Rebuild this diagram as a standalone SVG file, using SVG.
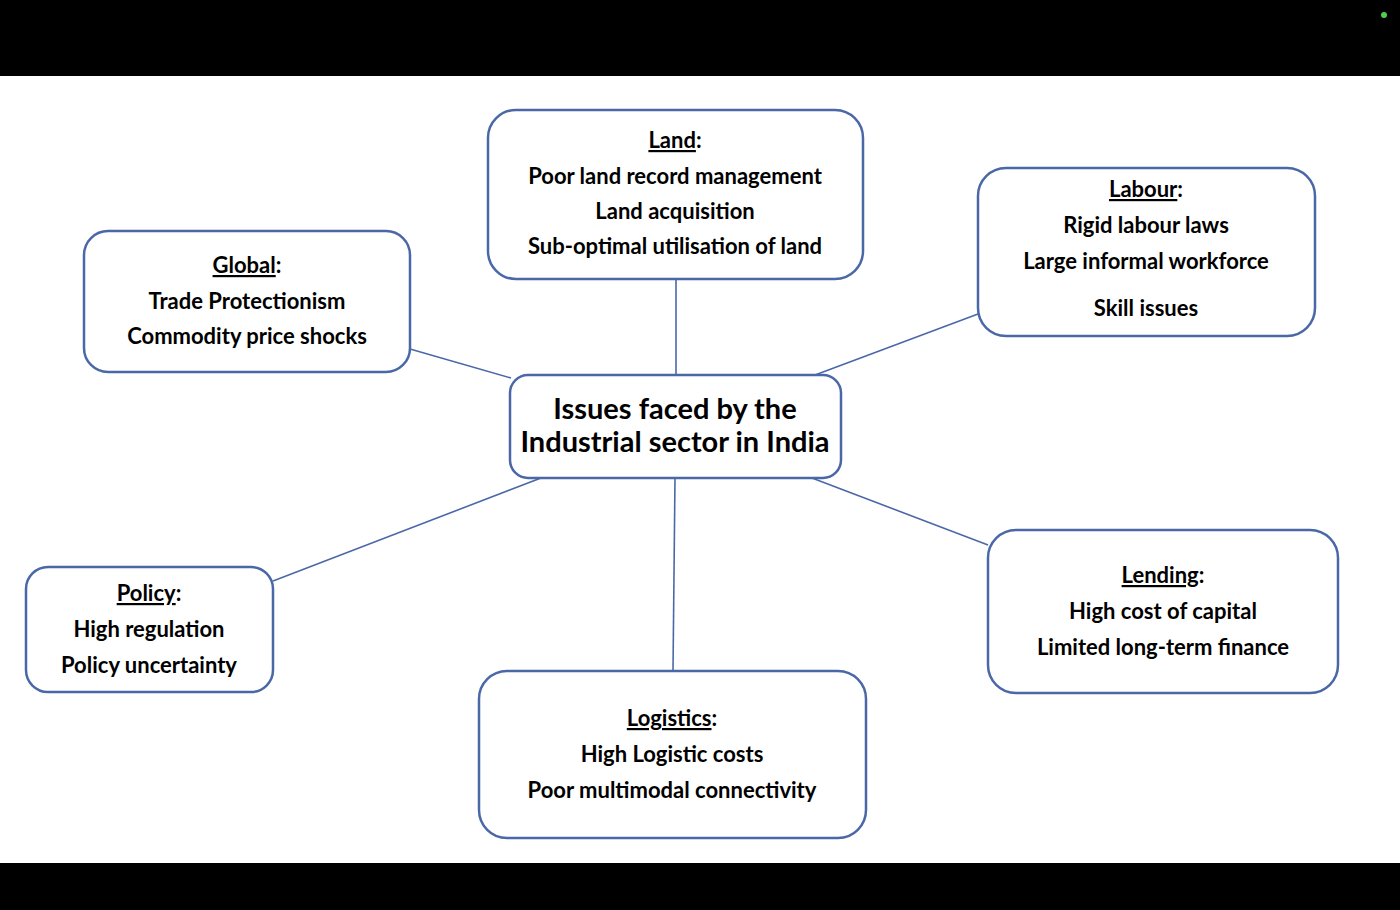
<svg xmlns="http://www.w3.org/2000/svg" width="1400" height="910" viewBox="0 0 1400 910">
<style>
.box{fill:#fff;stroke:#4a68a8;stroke-width:2.5}
.ln{stroke:#4a68a8;stroke-width:1.6;fill:none}
text{font-family:Lato,"Liberation Sans",sans-serif;font-weight:bold;font-size:22px;fill:#000;text-anchor:middle}
.u{text-decoration:underline}
.t{font-size:29px}
</style>
<rect x="0" y="0" width="1400" height="76" fill="#000"/>
<rect x="0" y="863" width="1400" height="47" fill="#000"/>
<circle cx="1384" cy="15" r="3" fill="#4ccf4c"/>
<g id="connectors">
<line class="ln" x1="676" y1="279" x2="676" y2="375"/>
<line class="ln" x1="410" y1="349" x2="511" y2="378"/>
<line class="ln" x1="978" y1="314" x2="815" y2="375"/>
<line class="ln" x1="273" y1="581" x2="541" y2="478"/>
<line class="ln" x1="673" y1="671" x2="675" y2="478"/>
<line class="ln" x1="988" y1="545" x2="812" y2="478"/>
</g>
<g id="land">
<rect class="box" x="488" y="110" width="375" height="169" rx="28"/>
<text x="675" y="148"><tspan class="u">Land</tspan>:</text>
<text x="675" y="184">Poor land record management</text>
<text x="675" y="219">Land acquisition</text>
<text x="675" y="254">Sub-optimal utilisation of land</text>
</g>
<g id="labour">
<rect class="box" x="978" y="168" width="337" height="168" rx="28"/>
<text x="1146" y="197"><tspan class="u">Labour</tspan>:</text>
<text x="1146" y="233">Rigid labour laws</text>
<text x="1146" y="269">Large informal workforce</text>
<text x="1146" y="316">Skill issues</text>
</g>
<g id="global">
<rect class="box" x="84" y="231" width="326" height="141" rx="24"/>
<text x="247" y="273"><tspan class="u">Global</tspan>:</text>
<text x="247" y="309">Trade Protectionism</text>
<text x="247" y="344">Commodity price shocks</text>
</g>
<g id="center">
<rect class="box" x="510" y="375" width="331" height="103" rx="18"/>
<text class="t" x="675" y="419">Issues faced by the</text>
<text class="t" x="675" y="452">Industrial sector in India</text>
</g>
<g id="policy">
<rect class="box" x="26" y="567" width="247" height="125" rx="22"/>
<text x="149" y="601"><tspan class="u">Policy</tspan>:</text>
<text x="149" y="637">High regulation</text>
<text x="149" y="673">Policy uncertainty</text>
</g>
<g id="logistics">
<rect class="box" x="479" y="671" width="387" height="167" rx="28"/>
<text x="672" y="726"><tspan class="u">Logistics</tspan>:</text>
<text x="672" y="762">High Logistic costs</text>
<text x="672" y="798">Poor multimodal connectivity</text>
</g>
<g id="lending">
<rect class="box" x="988" y="530" width="350" height="163" rx="28"/>
<text x="1163" y="583"><tspan class="u">Lending</tspan>:</text>
<text x="1163" y="619">High cost of capital</text>
<text x="1163" y="655">Limited long-term finance</text>
</g>
</svg>
